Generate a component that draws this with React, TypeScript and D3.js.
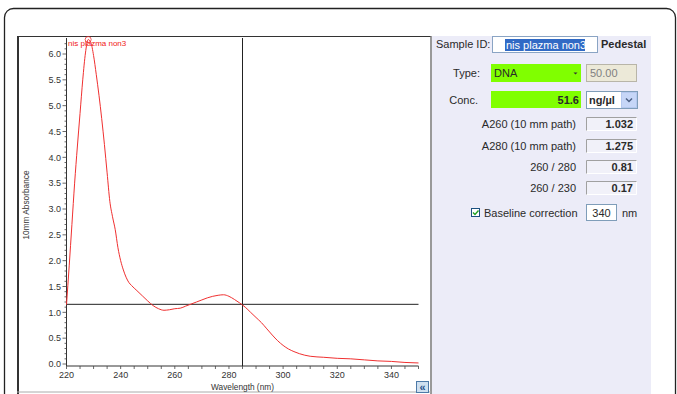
import React from "react";
import * as d3 from "d3";

// spectrum (nm, 10mm absorbance)
const wavelengths = [220, 221, 222, 223, 224, 225, 226, 227, 228, 229, 230, 231, 232, 233, 234, 235, 236, 237, 238, 239, 240, 241, 242, 243, 244, 246, 248, 250, 252, 254, 256, 258, 260, 262, 264, 266, 268, 270, 272, 274, 276, 278, 280, 282, 284, 286, 288, 290, 292, 294, 296, 298, 300, 302, 304, 306, 308, 310, 315, 320, 325, 330, 335, 340, 345, 350];
const absorbance = [1.15, 1.9, 2.7, 3.5, 4.2, 4.85, 5.5, 6.02, 6.28, 6.22, 5.97, 5.6, 5.2, 4.75, 4.25, 3.7, 3.15, 2.85, 2.6, 2.25, 2.0, 1.82, 1.68, 1.58, 1.52, 1.42, 1.32, 1.22, 1.13, 1.07, 1.04, 1.05, 1.07, 1.08, 1.12, 1.16, 1.2, 1.24, 1.28, 1.31, 1.33, 1.34, 1.31, 1.25, 1.18, 1.1, 1.0, 0.9, 0.8, 0.68, 0.56, 0.45, 0.36, 0.29, 0.24, 0.2, 0.17, 0.15, 0.13, 0.11, 0.1, 0.08, 0.06, 0.05, 0.03, 0.02];
const xTicks = [220, 240, 260, 280, 300, 320, 340];
const yTicks = [0, 0.5, 1, 1.5, 2, 2.5, 3, 3.5, 4, 4.5, 5, 5.5, 6];
const cursorNm = 285;
const cursorAbs = 1.155;
const sampleName = "nis plazma non3";

// right hand panel
const resultLabels = ["A260 (10 mm path)", "A280 (10 mm path)", "260 / 280", "260 / 230"];
const resultValues = ["1.032", "1.275", "0.81", "0.17"];
const sampleType = "DNA";
const typeFactor = "50.00";
const concValue = "51.6";
const concUnit = "ng/µl";
const baselineNm = "340";

const panelFont = "'Liberation Sans', Arial, sans-serif";

const App = () => {
  const width = 677;
  const height = 394;
  const x = d3.scaleLinear().domain([220, 350]).range([66.5, 418.5]);
  const y = d3.scaleLinear().domain([0, 6]).range([364, 54]);
  const yTop = 38;
  const xAxisY = 366;

  const points = wavelengths.map((w, i) => [w, absorbance[i]] as [number, number]);
  const line = d3
    .line<[number, number]>()
    .x((d) => x(d[0]))
    .y((d) => y(d[1]))
    .curve(d3.curveMonotoneX);

  const peak = points.reduce((a, b) => (b[1] > a[1] ? b : a));
  const minorY = d3.range(0, 63).map((i) => i / 10);
  const minorX = d3.range(220, 351, 5);

  const rowTop = [117, 139, 160, 181];

  return (
    <svg width={width} height={height} style={{ position: "absolute", left: 0, top: 0 }}>
      <rect width={width} height={height} fill="#fff" />
      {/* outer frame */}
      <rect x={4.5} y={8.5} width={671} height={420} rx={9} fill="#fff" stroke="#222" strokeWidth={1.3} />

      {/* chart panel */}
      <rect x={17} y={36} width={414} height={356} fill="#fff" />
      <line x1={18} y1={36} x2={18} y2={394} stroke="#333" strokeWidth={2} />
      <line x1={17} y1={36.5} x2={431} y2={36.5} stroke="#333" strokeWidth={1} />
      <line x1={431} y1={36} x2={431} y2={394} stroke="#777" strokeWidth={1.5} />
      <line x1={17} y1={392} x2={431} y2={392} stroke="#aaa" strokeWidth={1} />

      {/* axes */}
      <g fontFamily={panelFont} fontSize={9} fill="#333">
        <line x1={x(220)} y1={yTop} x2={x(220)} y2={xAxisY} stroke="#333" />
        {minorY.map((v) => (
          <line key={"my" + v} x1={x(220) - (Math.round(v * 10) % 5 === 0 ? 4 : 2)} x2={x(220)} y1={y(v)} y2={y(v)} stroke="#444" strokeWidth={0.8} />
        ))}
        {yTicks.map((v) => (
          <text key={"yt" + v} x={61} y={y(v) + 3.2} textAnchor="end">
            {v.toFixed(1)}
          </text>
        ))}
        <line x1={x(220)} y1={xAxisY} x2={x(350)} y2={xAxisY} stroke="#333" />
        {minorX.map((v) => (
          <line key={"mx" + v} x1={x(v)} x2={x(v)} y1={xAxisY} y2={xAxisY + 3} stroke="#444" strokeWidth={0.8} />
        ))}
        {xTicks.map((v) => (
          <text key={"xt" + v} x={x(v)} y={378} textAnchor="middle">
            {v}
          </text>
        ))}
        <text x={x(285)} y={389.5} textAnchor="middle" fontSize={8.3}>Wavelength (nm)</text>
        <text transform="translate(29,205) rotate(-90)" textAnchor="middle" fontSize={8.3}>10mm Absorbance</text>
      </g>

      {/* cursor */}
      <line x1={x(cursorNm)} x2={x(cursorNm)} y1={yTop} y2={xAxisY} stroke="#222" />
      <line x1={x(220)} x2={x(350)} y1={y(cursorAbs)} y2={y(cursorAbs)} stroke="#222" />

      {/* spectrum */}
      <path d={line(points) || ""} fill="none" stroke="#f03030" strokeWidth={1} />
      <circle cx={x(peak[0])} cy={y(peak[1])} r={3} fill="none" stroke="#f03030" strokeWidth={0.8} />
      <text x={68} y={46} fontFamily={panelFont} fontSize={8} fill="#f02020">{sampleName}</text>

      {/* collapse button */}
      <rect x={416.5} y={381.5} width={12} height={11} fill="#cfe0f0" stroke="#4d7aa8" />
      <text x={422.5} y={390.5} textAnchor="middle" fontFamily={panelFont} fontSize={11} fontWeight="bold" fill="#24508a">«</text>

      {/* right panel */}
      <rect x={432} y={36} width={219} height={358} fill="#ececf8" />
      <g fontFamily={panelFont} fontSize={11} fill="#2a2a2a">
        <text x={436} y={48}>Sample ID:</text>
        <rect x={492.5} y={36.5} width={105} height={16} fill="#fff" stroke="#8aa4c4" />
        <rect x={505} y={39} width={80} height={12} fill="#316ac5" />
        <text x={506} y={48.5} fill="#fff">{sampleName}</text>
        <text x={601} y={48} fontWeight="bold">Pedestal</text>

        <text x={480} y={77} textAnchor="end">Type:</text>
        <rect x={491} y={64} width={90} height={18} fill="#80ff00" />
        <text x={494} y={77}>{sampleType}</text>
        <path d="M573.5,72.5 h4 l-2,2 z" fill="#333" />
        <rect x={586.5} y={64.5} width={50} height={17} fill="#ece9d8" stroke="#b8b5a8" />
        <text x={590} y={77} fill="#808080">{typeFactor}</text>

        <text x={478} y={104} textAnchor="end">Conc.</text>
        <rect x={491} y={91} width={90} height={17} fill="#80ff00" />
        <text x={579} y={104} textAnchor="end" fontWeight="bold">{concValue}</text>
        <rect x={586.5} y={91.5} width={51} height={17} fill="#fff" stroke="#7f9db9" />
        <text x={589} y={104} fontWeight="bold">{concUnit}</text>
        <rect x={621.5} y={92.5} width={15} height={15} fill="#c6d6f7" stroke="#b4c8ef" />
        <path d="M626,98.5 l3,3 l3,-3" fill="none" stroke="#4d6185" strokeWidth={1.5} />

        {resultLabels.map((lab, i) => (
          <g key={lab}>
            <text x={576} y={rowTop[i] + 10.5} textAnchor="end">{lab}</text>
            <rect x={586} y={rowTop[i]} width={51} height={14} fill="#f1f1f9" />
            <path d={`M586.5,${rowTop[i] + 14} V${rowTop[i] + 0.5} H637`} fill="none" stroke="#a0a0a0" />
            <path d={`M586.5,${rowTop[i] + 13.5} H636.5 V${rowTop[i] + 0.5}`} fill="none" stroke="#fff" />
            <text x={633} y={rowTop[i] + 10.5} textAnchor="end" fontWeight="bold">{resultValues[i]}</text>
          </g>
        ))}

        <rect x={471.5} y={208.5} width={8} height={8} fill="#fff" stroke="#1c5180" />
        <path d="M473,212.5 l2,2 l3.5,-4" fill="none" stroke="#21a121" strokeWidth={1.4} />
        <text x={484} y={216.5}>Baseline correction</text>
        <rect x={586.5} y={204.5} width={30} height={16} fill="#fff" stroke="#7f9db9" />
        <text x={601.5} y={216.5} textAnchor="middle">{baselineNm}</text>
        <text x={622} y={216.5}>nm</text>
      </g>
    </svg>
  );
};

export default App;
